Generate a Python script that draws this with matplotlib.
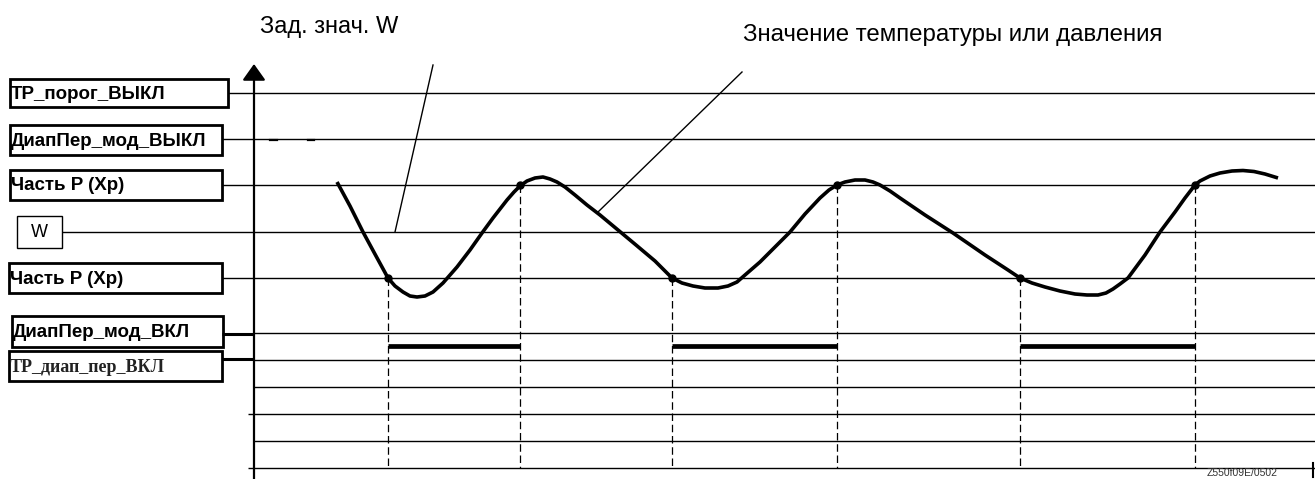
import matplotlib.pyplot as plt
from matplotlib import patches

# horizontal reference levels (pixel rows, top = 0) and where each starts
level_y = [93, 139, 185, 232, 278, 333, 360, 387, 414, 441, 468]
level_x0 = [228, 222, 222, 62, 222, 254, 254, 254, 248, 254, 248]

# labelled boxes on the left
box_labels = ['ТР_порог_ВЫКЛ', 'ДиапПер_мод_ВЫКЛ', 'Часть P (Xp)', 'W',
              'Часть P (Xp)', 'ДиапПер_мод_ВКЛ', 'ТР_диап_пер_ВКЛ']
box_center = [93, 140, 185, 232, 278, 331.5, 366]

# temperature / pressure curve
curve_x = [337, 350, 363, 376, 388, 395, 403, 410, 417, 425, 433, 443, 457, 470,
           482, 493, 507, 514, 520, 527, 535, 543, 550, 557, 565, 575, 587, 600,
           618, 636, 655, 665, 672, 682, 693, 705, 718, 728, 737, 745, 760, 775,
           790, 805, 820, 829, 837, 845, 855, 865, 873, 880, 890, 900, 925, 953,
           985, 1008, 1020, 1032, 1045, 1060, 1075, 1087, 1098, 1106, 1113, 1120,
           1128, 1145, 1160, 1175, 1185, 1195, 1200, 1210, 1220, 1232, 1243, 1254,
           1265, 1278]
curve_y = [182, 206, 232, 256, 278, 286, 292, 296, 297, 296, 292, 283, 267, 250,
           233, 218, 200, 192, 186, 181, 178, 177, 179, 182, 187, 195, 205, 215,
           230, 245, 261, 271, 278, 283, 286, 288, 288, 286, 282, 275, 262, 247,
           232, 214, 198, 190, 185, 182, 180, 180, 182, 185, 191, 198, 215, 233,
           255, 270, 278, 283, 287, 291, 294, 295, 295, 293, 289, 284,
           278, 255, 232, 212, 198, 185, 181, 176, 173, 171, 170.5, 171.5,
           174, 178]

# switching points (curve crosses the Xp band limits)
cross_x = [388, 520, 672, 837, 1020, 1195]
cross_y = [278, 185, 278, 185, 278, 185]

# periods where the modulating range is on
on_start = [388, 672, 1020]
on_end = [520, 837, 1195]
on_y = 346

fig = plt.figure(figsize=(13.15, 4.79), dpi=100)
ax = fig.add_axes([0, 0, 1, 1])
ax.set_xlim(0, 1315)
ax.set_ylim(479, 0)
ax.axis('off')

# reference lines
for y, x0 in zip(level_y, level_x0):
    ax.plot([x0, 1315], [y, y], color='black', lw=1.0, solid_capstyle='butt')

# little stray marks on the ДиапПер_мод_ВЫКЛ line
ax.plot([270, 277], [139.5, 139.5], color='black', lw=1.6)
ax.plot([308, 314], [139.5, 139.5], color='black', lw=1.6)

# stubs joining the lower boxes to the axis
for y in [334, 359]:
    ax.plot([222, 254], [y, y], color='black', lw=2.2, solid_capstyle='butt')

# vertical axis with arrow
ax.annotate('', xy=(254, 64), xytext=(254, 479),
            arrowprops=dict(arrowstyle='-|>,head_length=0.45,head_width=0.32',
                            lw=1.6, color='black', mutation_scale=22,
                            shrinkA=0, shrinkB=0))
# right end tick of the time axis
ax.plot([1313, 1313], [463, 477], color='black', lw=1.5)

# boxes with labels
box_x = [10, 10, 10, 17, 9, 12, 9]
box_w = [218, 212, 212, 45, 213, 211, 213]
box_h = [28, 30, 30, 32, 30, 31, 30]
for i, (lab, y) in enumerate(zip(box_labels, box_center)):
    if lab == 'W':
        rect = patches.Rectangle((box_x[i], y - box_h[i] / 2), box_w[i], box_h[i],
                                 fill=False, lw=1.0, edgecolor='black')
        ax.add_patch(rect)
        ax.text(box_x[i] + box_w[i] / 2, y, lab, ha='center', va='center',
                fontsize=13, family='Liberation Sans')
        continue
    rect = patches.Rectangle((box_x[i], y - box_h[i] / 2), box_w[i], box_h[i],
                             fill=False, lw=2.0, edgecolor='black')
    ax.add_patch(rect)
    if lab == 'ТР_диап_пер_ВКЛ':
        ax.text(box_x[i] + 1, y + 1, lab, ha='left', va='center', fontsize=13,
                family='Liberation Serif', fontweight='bold', color='#222222')
    else:
        ax.text(box_x[i] + 1, y + 1, lab, ha='left', va='center', fontsize=13.5,
                family='Liberation Sans', fontweight='bold')

# dashed drop lines from switching points
for x, y in zip(cross_x, cross_y):
    ax.plot([x, x], [y, 468], color='black', lw=0.9, linestyle=(0, (6, 3)))

# the process curve
ax.plot(curve_x, curve_y, color='black', lw=2.6, solid_joinstyle='round',
        solid_capstyle='butt')
ax.plot(cross_x, cross_y, 'o', color='black', markersize=5)

# on-periods
for x0, x1 in zip(on_start, on_end):
    ax.plot([x0, x1], [on_y, on_y], color='black', lw=3.4, solid_capstyle='butt')

# pointer lines and captions
ax.plot([433, 395], [65, 232], color='black', lw=1.0)
ax.plot([742, 598], [72, 212], color='black', lw=1.0)
ax.text(260, 27, 'Зад. знач. W', ha='left', va='center', fontsize=17,
        family='Liberation Sans')
ax.text(743, 35, 'Значение температуры или давления', ha='left', va='center',
        fontsize=17.3, family='Liberation Sans')
ax.text(1207, 478.5, 'Z550f09E/0502', ha='left', va='bottom', fontsize=7.5,
        family='Liberation Sans', color='#333333')

fig.savefig('out.png', dpi=100)
